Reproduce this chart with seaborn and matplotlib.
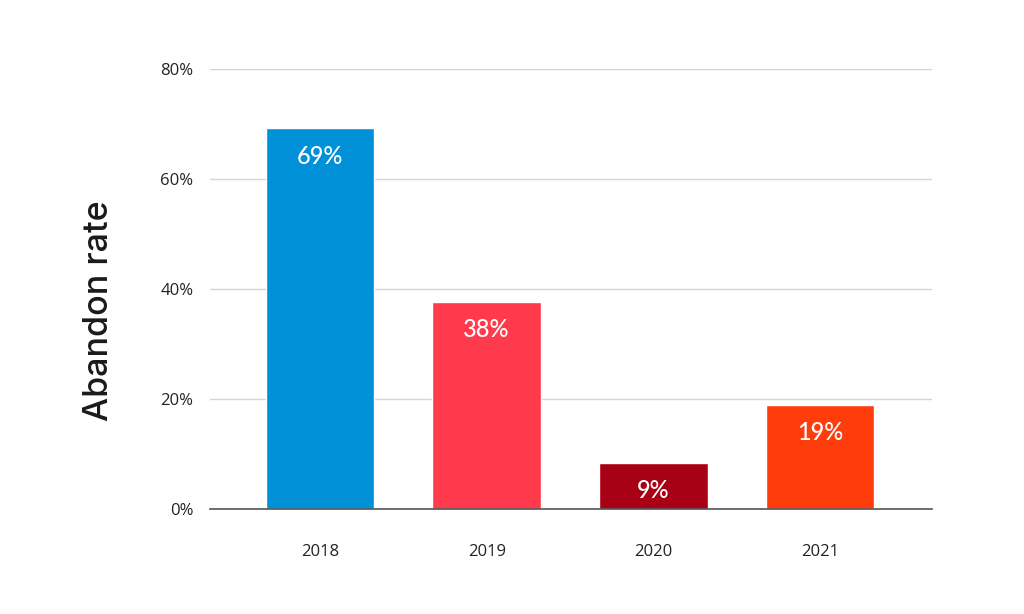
import matplotlib
matplotlib.use("Agg")

import pandas as pd
import matplotlib.pyplot as plt
import seaborn as sns

# Dados do gráfico
anos = ["2018", "2019", "2020", "2021"]
taxas = [69.2, 37.6, 8.4, 19.0]
rotulos = ["69%", "38%", "9%", "19%"]
cores = ["#0091D9", "#FF3A4C", "#A80014", "#FF3D0C"]
yticks = [0, 20, 40, 60, 80]

sns.set_theme(style="white")
plt.rcParams["font.family"] = ["Open Sans", "DejaVu Sans"]

df = pd.DataFrame({"ano": anos, "taxa": taxas})

fig = plt.figure(figsize=(10.24, 6.14), dpi=100)
ax = fig.add_axes([0.205, 0.171, 0.705, 0.7166])

sns.barplot(data=df, x="ano", y="taxa", hue="ano", palette=cores,
            width=0.65, legend=False, ax=ax, zorder=3, saturation=1)

for i, (v, txt) in enumerate(zip(taxas, rotulos)):
    ax.annotate(txt, xy=(i, v), xytext=(0, -20), textcoords="offset points",
                ha="center", va="center", color="white", fontsize=17,
                fontweight="medium", family=["Lato", "DejaVu Sans"])

ax.set_ylim(0, 80)
ax.set_xlim(-0.66, 3.67)
ax.set_yticks(yticks)
ax.set_yticklabels([f"{t}%" for t in yticks])
ax.yaxis.grid(True, color="#D5D5D5", linewidth=1, zorder=0)
ax.tick_params(axis="y", length=0, pad=12, labelsize=12, colors="#222222")
ax.tick_params(axis="x", length=0, pad=25, labelsize=12, colors="#222222")

for s in ["top", "right", "left"]:
    ax.spines[s].set_visible(False)
ax.spines["bottom"].set_color("#555555")
ax.spines["bottom"].set_linewidth(1.2)
ax.spines["bottom"].set_zorder(4)

ax.set_xlabel("")
ax.set_ylabel("Abandon rate", fontsize=24.5, color="#1a1a1a",
              fontweight="medium", family=["Inter", "DejaVu Sans"])
ax.yaxis.set_label_coords(-0.132, 0.45)

fig.savefig("out.png", dpi=100)
plt.close(fig)
